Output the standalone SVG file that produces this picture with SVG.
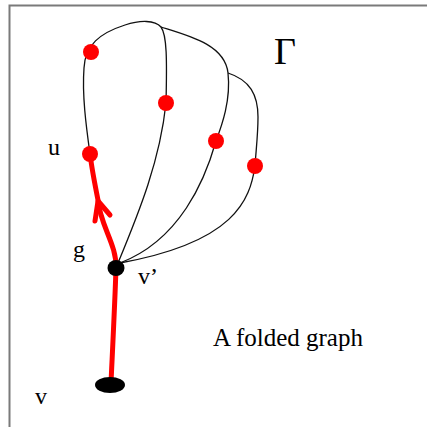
<svg xmlns="http://www.w3.org/2000/svg" width="427" height="427" viewBox="0 0 427 427">
<style>
.frame{stroke:#7a7a7a;stroke-width:2;fill:none}
.edge{fill:none;stroke:#111;stroke-width:1.3}
.red{fill:none;stroke:#ff0000;stroke-width:5;stroke-linecap:round;stroke-linejoin:round}
.rdot{fill:#ff0000}
.bdot{fill:#000}
text{font-family:"Liberation Serif","Times New Roman",serif;fill:#000}
</style>
<rect x="0" y="0" width="427" height="427" fill="#fff"/>
<path class="frame" d="M9.5,427 V5.5 H427"/>
<g id="connectors">
<path class="edge" d="M90,154 C86,125 82,95 84,68 C85,45 100,33 125,25 C140,20 155,20 161,27 C167,35 167,60 166,103 C160,160 140,210 118,263"/>
<path class="edge" d="M161,27 C190,36 225,45 228,73 C231,100 222,125 216,141 C205,180 180,240 120,263"/>
<path class="edge" d="M228,73 C250,80 258,95 258,117 C258,135 256,150 255,166 C250,200 235,242 120,263"/>
<path class="red" d="M111,383 C113,340 115,300 116,268 C117,245 100,225 98,200 C95,185 92,170 90,154"/>
<path class="red" d="M95,221 L98,201 L110,215"/>
</g>
<g id="node-top"><circle class="rdot" cx="91" cy="52" r="8"/></g>
<g id="node-mid1"><circle class="rdot" cx="166" cy="103" r="8"/></g>
<g id="node-mid2"><circle class="rdot" cx="216" cy="141" r="8"/></g>
<g id="node-mid3"><circle class="rdot" cx="255" cy="166" r="8"/></g>
<g id="node-u"><circle class="rdot" cx="90" cy="154" r="8"/><text x="48" y="155" font-size="24">u</text></g>
<g id="node-vprime"><ellipse class="bdot" cx="116" cy="268" rx="8.5" ry="8"/><text x="138" y="284" font-size="24">v’</text></g>
<g id="node-v"><ellipse class="bdot" cx="110" cy="385" rx="15" ry="8"/><text x="35" y="404" font-size="24">v</text></g>
<text x="73" y="257" font-size="24">g</text>
<text x="274" y="64" font-size="38">Γ</text>
<text x="213" y="346" font-size="25">A folded graph</text>
</svg>
